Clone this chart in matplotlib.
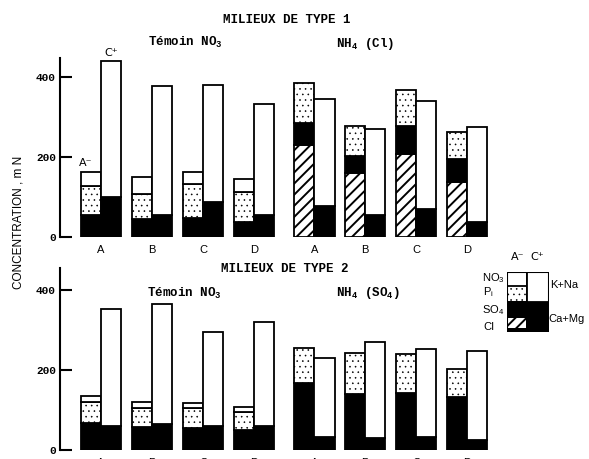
import matplotlib
matplotlib.use('Agg')
import matplotlib.pyplot as plt
from matplotlib.patches import Rectangle

plt.rcParams['hatch.linewidth'] = 1.4
plt.rcParams['mathtext.fontset'] = 'custom'
plt.rcParams['mathtext.rm'] = 'Liberation Mono:bold'
plt.rcParams['mathtext.it'] = 'Liberation Mono:bold'
plt.rcParams['mathtext.bf'] = 'Liberation Mono:bold'
plt.rcParams['mathtext.sf'] = 'Liberation Sans'

categories = ['A', 'B', 'C', 'D']
yticks = [0, 200, 400]

# Type 1 - Témoin NO3
t1_temoin_so4 = [55, 44, 47, 38]
t1_temoin_pi = [73, 64, 85, 74]
t1_temoin_no3 = [34, 41, 30, 33]
t1_temoin_camg = [99, 55, 87, 55]
t1_temoin_kna = [341, 323, 294, 278]
# Type 1 - NH4 (Cl)
t1_nh4_cl = [230, 159, 207, 138]
t1_nh4_so4 = [56, 44, 70, 56]
t1_nh4_pi = [98, 75, 90, 68]
t1_nh4_camg = [77, 55, 69, 38]
t1_nh4_kna = [267, 214, 270, 238]
# Type 2 - Témoin NO3
t2_temoin_so4 = [67, 58, 54, 50]
t2_temoin_pi = [52, 48, 52, 46]
t2_temoin_no3 = [16, 13, 11, 12]
t2_temoin_camg = [60, 64, 61, 60]
t2_temoin_kna = [293, 301, 235, 260]
# Type 2 - NH4 (SO4)
t2_nh4_so4 = [168, 139, 142, 133]
t2_nh4_pi = [88, 103, 97, 69]
t2_nh4_camg = [32, 31, 32, 25]
t2_nh4_kna = [199, 238, 220, 223]

W, H = 589, 459
fig = plt.figure(figsize=(W / 100, H / 100), dpi=100)


def fx(x):
    return x / W


def fy(y):
    return 1 - y / H


STYLE = {
    'cl': dict(facecolor='white', hatch='///'),
    'pi': dict(facecolor='white', hatch='...'),
    'black': dict(facecolor='black'),
    'white': dict(facecolor='white'),
}

temoin_x = [0, 1, 2, 3]
nh4_x = [4.17, 5.16, 6.15, 7.15]
bw = 0.39


def thin_dots(patches, st):
    if st == 'pi':
        for p in patches:
            if hasattr(p, 'set_hatch_linewidth'):
                p.set_hatch_linewidth(0.4)
            else:
                p._hatch_linewidth = 0.4


def stack(ax, xs, segments, side):
    bottoms = [0] * len(xs)
    for vals, st in segments:
        left = [x - bw if side == 'a' else x for x in xs]
        bars = ax.bar(left, vals, width=bw, bottom=bottoms, align='edge',
                      edgecolor='black', linewidth=1.3, **STYLE[st])
        thin_dots(bars, st)
        bottoms = [b + v for b, v in zip(bottoms, vals)]
    return bottoms


def setup(ax, ytop):
    ax.set_xlim(-0.79, 9.52)
    ax.set_ylim(0, ytop)
    for s in ['top', 'right', 'bottom']:
        ax.spines[s].set_visible(False)
    ax.spines['left'].set_linewidth(1.5)
    ax.set_yticks(yticks)
    ax.set_yticklabels([str(v) for v in yticks], fontfamily='Liberation Mono',
                       fontweight='bold', fontsize=8)
    ax.tick_params(axis='y', direction='in', length=8.6, width=1.5, pad=3)
    ax.set_xticks(temoin_x + nh4_x)
    ax.set_xticklabels(categories + categories, fontfamily='Liberation Sans', fontsize=8)
    ax.tick_params(axis='x', length=0, pad=5.4)
    ax.patch.set_alpha(0)


# top panel
ax1 = fig.add_axes([fx(60), fy(237), fx(529), 179 / H])
setup(ax1, 447.5)
a_top = stack(ax1, temoin_x, [(t1_temoin_so4, 'black'), (t1_temoin_pi, 'pi'),
                              (t1_temoin_no3, 'white')], 'a')
c_top = stack(ax1, temoin_x, [(t1_temoin_camg, 'black'), (t1_temoin_kna, 'white')], 'c')
stack(ax1, nh4_x, [(t1_nh4_cl, 'cl'), (t1_nh4_so4, 'black'), (t1_nh4_pi, 'pi')], 'a')
stack(ax1, nh4_x, [(t1_nh4_camg, 'black'), (t1_nh4_kna, 'white')], 'c')
ax1.annotate('A\u207b', xy=(temoin_x[0] - bw / 2 - 0.1, a_top[0]), xytext=(0, 3),
             textcoords='offset points', ha='center', va='bottom',
             fontfamily='DejaVu Sans', fontsize=8)
ax1.annotate('C\u207a', xy=(temoin_x[0] + bw / 2 + 0.02, c_top[0]), xytext=(0, 2),
             textcoords='offset points', ha='center', va='bottom',
             fontfamily='DejaVu Sans', fontsize=8)

# bottom panel
ax2 = fig.add_axes([fx(60), fy(450), fx(529), 182 / H])
setup(ax2, 455)
stack(ax2, temoin_x, [(t2_temoin_so4, 'black'), (t2_temoin_pi, 'pi'),
                      (t2_temoin_no3, 'white')], 'a')
stack(ax2, temoin_x, [(t2_temoin_camg, 'black'), (t2_temoin_kna, 'white')], 'c')
stack(ax2, nh4_x, [(t2_nh4_so4, 'black'), (t2_nh4_pi, 'pi')], 'a')
stack(ax2, nh4_x, [(t2_nh4_camg, 'black'), (t2_nh4_kna, 'white')], 'c')

# titles
tkw = dict(fontfamily='Liberation Mono', fontweight='bold', ha='center', va='center')
fig.text(fx(287), fy(20), 'MILIEUX DE TYPE 1', fontsize=9, **tkw)
fig.text(fx(185), fy(42), 'Témoin NO$_3$', fontsize=9, **tkw)
fig.text(fx(365), fy(44), 'NH$_4$ (Cl)', fontsize=9, **tkw)
fig.text(fx(285), fy(269), 'MILIEUX DE TYPE 2', fontsize=9, **tkw)
fig.text(fx(184), fy(293), 'Témoin NO$_3$', fontsize=9, **tkw)
fig.text(fx(368), fy(293), 'NH$_4$ (SO$_4$)', fontsize=9, **tkw)

fig.text(fx(19), fy(222), 'CONCENTRATION , m N', rotation=90, ha='center', va='center',
         fontfamily='Liberation Sans', fontsize=8.5)

# legend key
lx0, lx1, ly0, ly1 = 506.7, 549, 271.7, 332.3
lax = fig.add_axes([fx(lx0), fy(ly1), fx(lx1 - lx0), (ly1 - ly0) / H])
lax.set_xlim(0, lx1 - lx0)
lax.set_ylim(0, ly1 - ly0)
lax.axis('off')
rk = dict(edgecolor='black', linewidth=1.3)
lax.add_patch(Rectangle((0, 30), 20.6, 30.6, **rk, **STYLE['white']))
pkey = Rectangle((0, 30), 20.6, 16.6, **rk, **STYLE['pi'])
thin_dots([pkey], 'pi')
lax.add_patch(pkey)
lax.add_patch(Rectangle((0, 0), 42.3, 30, **rk, **STYLE['black']))
lax.add_patch(Rectangle((1.0, 4.0), 18.3, 10.6, edgecolor='black', linewidth=0,
                        **STYLE['cl']))
lax.add_patch(Rectangle((20.6, 30), 21.7, 30.6, **rk, **STYLE['white']))
lax.add_patch(Rectangle((0, 0), 42.3, 60.6, fill=False, edgecolor='black', linewidth=1.5))

lkw = dict(fontfamily='Liberation Sans', fontsize=8, va='center')
fig.text(fx(482), fy(278.5), r'$\mathsf{NO_3}$', ha='left', **lkw)
fig.text(fx(483), fy(292.5), r'$\mathsf{P_i}$', ha='left', **lkw)
fig.text(fx(482), fy(310.5), r'$\mathsf{SO_4}$', ha='left', **lkw)
fig.text(fx(483), fy(327), 'CI', ha='left', **lkw)
fig.text(fx(550), fy(285), 'K+Na', ha='left', **lkw)
fig.text(fx(548.5), fy(319), 'Ca+Mg', ha='left', **lkw)
fig.text(fx(518), fy(257), 'A\u207b', ha='center', fontfamily='DejaVu Sans', fontsize=8,
         va='center')
fig.text(fx(537), fy(257), 'C\u207a', ha='center', fontfamily='DejaVu Sans', fontsize=8,
         va='center')

fig.savefig('out.png', dpi=100)
